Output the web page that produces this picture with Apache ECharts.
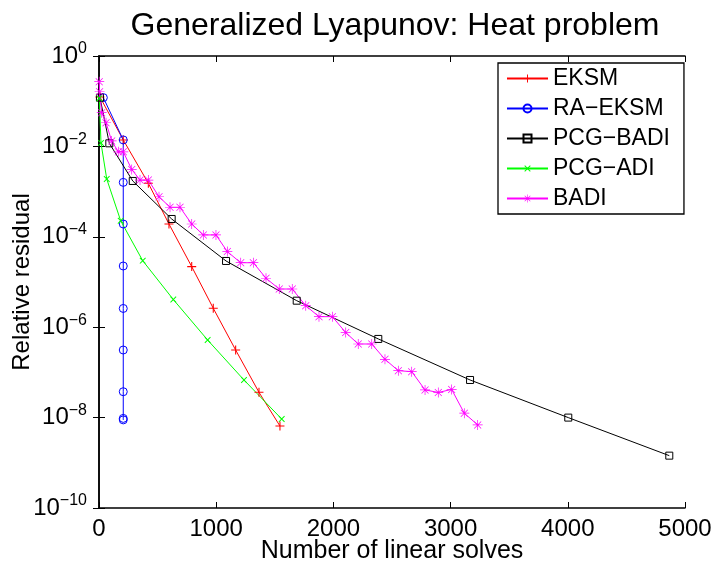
<!DOCTYPE html>
<html>
<head>
<meta charset="utf-8">
<script src="https://cdn.jsdelivr.net/npm/echarts@6/dist/echarts.min.js"></script>
<style>
html, body { margin: 0; padding: 0; background: #fff; }
#main { width: 713px; height: 562px; }
</style>
</head>
<body>
<div id="main"></div>
<script>
// data (x = number of linear solves, y = relative residual)
const eksmX = [8, 207, 421, 597, 791, 975, 1166, 1365, 1544];
const eksmY = [0.124, 0.0139, 1.53e-3, 1.92e-4, 2.19e-5, 2.62e-6, 3.13e-7, 3.63e-8, 6.5e-9];

const raEksmX = [37, 207, 207, 207, 207, 207, 207, 207, 207, 207];
const raEksmY = [0.12, 0.0139, 1.6e-3, 1.92e-4, 2.26e-5, 2.6e-6, 3.13e-7, 3.74e-8, 9.6e-9, 8.9e-9];

const pcgBadiX = [8, 88, 288, 620, 1084, 1687, 2383, 3166, 4004, 4866];
const pcgBadiY = [0.12, 0.0117, 1.72e-3, 2.48e-4, 2.92e-5, 3.86e-6, 5.5e-7, 6.8e-8, 1.0e-8, 1.44e-9];

const pcgAdiX = [3, 17, 66, 185, 373, 634, 927, 1237, 1559];
const pcgAdiY = [0.116, 0.0119, 1.9e-3, 2.27e-4, 2.96e-5, 4.1e-6, 5.2e-7, 6.8e-8, 9.3e-9];

const badiX = [2, 5, 23, 60, 108, 165, 207, 279, 350, 421, 512, 606, 691, 791, 890, 998, 1095, 1209,
  1317, 1425, 1538, 1649, 1764, 1877, 1991, 2105, 2212, 2327, 2440, 2554, 2668, 2782, 2895, 3009, 3117, 3231];
const badiY = [0.27, 0.162, 0.0557, 0.0334, 0.0132, 7.6e-3, 7.6e-3, 3.1e-3, 1.8e-3, 1.8e-3, 7.7e-4, 4.5e-4,
  4.5e-4, 1.92e-4, 1.1e-4, 1.1e-4, 4.7e-5, 2.67e-5, 2.67e-5, 1.21e-5, 7.0e-6, 7.0e-6, 2.99e-6, 1.71e-6,
  1.71e-6, 7.6e-7, 4.25e-7, 4.25e-7, 1.95e-7, 1.09e-7, 1.04e-7, 4.1e-8, 3.6e-8, 4.2e-8, 1.25e-8, 6.9e-9];

const seriesNames = ["EKSM", "RA\u2212EKSM", "PCG\u2212BADI", "PCG\u2212ADI", "BADI"];
const xTicks = [0, 1000, 2000, 3000, 4000, 5000];

const FONT = "Liberation Sans, Arial, Helvetica, sans-serif";

// marker shapes (matlab style + x *)
const plusPath = "path://M4.4,0H5.6V4.4H10V5.6H5.6V10H4.4V5.6H0V4.4H4.4Z";
const starPath = "path://M9.3,0H10.7V20H9.3Z M0,9.3H20V10.7H0Z " +
  "M2.5,3.5L3.5,2.5L17.5,16.5L16.5,17.5Z M16.5,2.5L17.5,3.5L3.5,17.5L2.5,16.5Z";

function pairs(xs, ys) {
  return xs.map((x, i) => [x, ys[i]]);
}

function yLabel(v) {
  let e = Math.round(Math.log10(v));
  return "{b|10}{s|" + (e === 0 ? "0" : "\u2212" + (-e)) + "}";
}

let chart = echarts.init(document.getElementById("main"));

chart.setOption({
  animation: false,
  backgroundColor: "#fff",
  title: {
    text: "Generalized Lyapunov: Heat problem",
    left: 390,
    textAlign: "center",
    top: 5,
    textStyle: { fontFamily: FONT, fontSize: 32, fontWeight: "normal", color: "#000" }
  },
  grid: { left: 99, right: 28, top: 56, bottom: 54, outerBoundsMode: "none" },
  legend: {
    orient: "vertical",
    left: 498,
    top: 63,
    padding: [4, 14, 4, 8],
    itemGap: 7,
    itemWidth: 41,
    itemHeight: 10,
    backgroundColor: "#fff",
    borderColor: "#000",
    borderWidth: 1.3,
    data: seriesNames,
    textStyle: { fontFamily: FONT, fontSize: 23, color: "#000" }
  },
  xAxis: [
    {
      type: "value",
      min: xTicks[0],
      max: xTicks[xTicks.length - 1],
      interval: 1000,
      name: "Number of linear solves",
      nameLocation: "middle",
      nameGap: 31,
      nameMoveOverlap: false,
      nameTextStyle: { fontFamily: FONT, fontSize: 25, color: "#000" },
      axisLine: { lineStyle: { color: "#000", width: 1.5 } },
      axisTick: { inside: true, length: 6, lineStyle: { color: "#000" } },
      axisLabel: { margin: 9, fontFamily: FONT, fontSize: 24, color: "#000", formatter: v => String(v) },
      splitLine: { show: false }
    },
    {
      type: "value",
      position: "top",
      min: xTicks[0],
      max: xTicks[xTicks.length - 1],
      interval: 1000,
      axisLine: { lineStyle: { color: "#000", width: 1.5 } },
      axisTick: { inside: true, length: 6, lineStyle: { color: "#000" } },
      axisLabel: { show: false },
      splitLine: { show: false }
    }
  ],
  yAxis: [
    {
      type: "log",
      logBase: 10,
      min: 1e-10,
      max: 1,
      interval: 2,
      name: "Relative residual",
      nameLocation: "middle",
      nameGap: 65,
      nameMoveOverlap: false,
      nameTextStyle: { fontFamily: FONT, fontSize: 24, color: "#000" },
      axisLine: { lineStyle: { color: "#000", width: 1.5 } },
      axisTick: { inside: true, length: 6, lineStyle: { color: "#000" } },
      axisLabel: {
        margin: 12,
        formatter: yLabel,
        rich: {
          b: { fontFamily: FONT, fontSize: 24, color: "#000" },
          s: { fontFamily: FONT, fontSize: 16, color: "#000", padding: [0, 0, 14, 0] }
        }
      },
      minorTick: { show: false },
      splitLine: { show: false }
    },
    {
      type: "log",
      logBase: 10,
      position: "right",
      min: 1e-10,
      max: 1,
      interval: 2,
      axisLine: { lineStyle: { color: "#000", width: 1.5 } },
      axisTick: { inside: true, length: 6, lineStyle: { color: "#000" } },
      axisLabel: { show: false },
      splitLine: { show: false }
    }
  ],
  series: [
    {
      name: seriesNames[0],
      type: "line",
      data: pairs(eksmX, eksmY),
      symbol: plusPath,
      symbolSize: 9,
      lineStyle: { color: "#ff0000", width: 1 },
      itemStyle: { color: "#ff0000" }
    },
    {
      name: seriesNames[1],
      type: "line",
      data: pairs(raEksmX, raEksmY),
      symbol: "circle",
      symbolSize: 8,
      lineStyle: { color: "#0000ff", width: 1 },
      itemStyle: { color: "rgba(0,0,0,0)", borderColor: "#0000ff", borderWidth: 1 }
    },
    {
      name: seriesNames[2],
      type: "line",
      data: pairs(pcgBadiX, pcgBadiY),
      symbol: "rect",
      symbolSize: 7,
      lineStyle: { color: "#000000", width: 1 },
      itemStyle: { color: "rgba(0,0,0,0)", borderColor: "#000000", borderWidth: 1 }
    },
    {
      name: seriesNames[3],
      type: "line",
      data: pairs(pcgAdiX, pcgAdiY),
      symbol: plusPath,
      symbolRotate: 45,
      symbolSize: 8,
      lineStyle: { color: "#00ff00", width: 1 },
      itemStyle: { color: "#00ff00" }
    },
    {
      name: seriesNames[4],
      type: "line",
      data: pairs(badiX, badiY),
      symbol: starPath,
      symbolSize: 10,
      lineStyle: { color: "#ff00ff", width: 1 },
      itemStyle: { color: "#ff00ff" }
    }
  ]
});
</script>
</body>
</html>
